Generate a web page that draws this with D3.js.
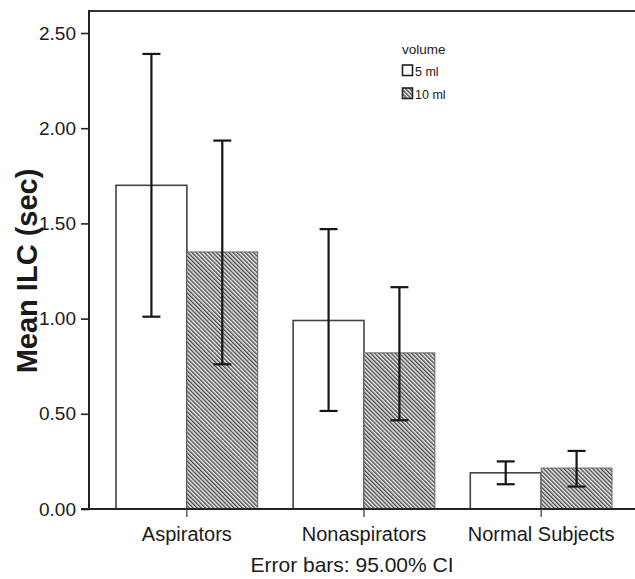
<!DOCTYPE html>
<html>
<head>
<meta charset="utf-8">
<script src="https://cdn.jsdelivr.net/npm/d3@7"></script>
<style>
  html, body { margin: 0; padding: 0; background: #fff; }
  svg { display: block; }
  text { font-family: "Liberation Sans", Arial, sans-serif; fill: #1a1a1a; }
</style>
</head>
<body>
<svg id="chart" width="635" height="579"></svg>
<script>
// ---- data ----
const categories = ["Aspirators", "Nonaspirators", "Normal Subjects"];
const seriesNames = ["5 ml", "10 ml"];
const mean5 = [1.70, 0.99, 0.19];
const mean10 = [1.35, 0.82, 0.215];
const ciLow5 = [1.01, 0.515, 0.13];
const ciHigh5 = [2.39, 1.47, 0.25];
const ciLow10 = [0.76, 0.466, 0.118];
const ciHigh10 = [1.935, 1.165, 0.305];
const yTicks = [0, 0.5, 1.0, 1.5, 2.0, 2.5];
const legendTitle = "volume";
const yTitle = "Mean ILC (sec)";
const footnote = "Error bars: 95.00% CI";

const svg = d3.select("#chart");

// hatch pattern
const defs = svg.append("defs");
const pat = defs.append("pattern")
  .attr("id", "hatch")
  .attr("patternUnits", "userSpaceOnUse")
  .attr("width", 2.9).attr("height", 10)
  .attr("patternTransform", "rotate(-45)");
pat.append("rect").attr("width", 2.9).attr("height", 10).attr("fill", "#f0f0f0");
pat.append("line").attr("x1", 0.7).attr("x2", 0.7).attr("y1", 0).attr("y2", 10)
  .attr("stroke", "#3a3a3a").attr("stroke-width", 1.3);

// scales
const y = d3.scaleLinear().domain([0, 2.5]).range([509, 33]);
const x = d3.scaleBand().domain(categories).range([116, 612]).paddingInner(0.2).paddingOuter(0);
const xs = d3.scaleBand().domain(seriesNames).range([0, x.bandwidth()]);

const rows = categories.map((c, i) => ([
  { cat: c, s: seriesNames[0], v: mean5[i], lo: ciLow5[i], hi: ciHigh5[i] },
  { cat: c, s: seriesNames[1], v: mean10[i], lo: ciLow10[i], hi: ciHigh10[i] }
])).flat();

// bars
svg.append("g").selectAll("rect").data(rows).join("rect")
  .attr("x", d => x(d.cat) + xs(d.s))
  .attr("y", d => y(d.v))
  .attr("width", xs.bandwidth())
  .attr("height", d => y(0) - y(d.v))
  .attr("fill", d => d.s === seriesNames[0] ? "#ffffff" : "url(#hatch)")
  .attr("stroke", d => d.s === seriesNames[0] ? "#444" : "#666")
  .attr("stroke-width", d => d.s === seriesNames[0] ? 1.6 : 1);

// error bars
const eg = svg.append("g").attr("stroke", "#151515").attr("stroke-width", 2.2).attr("fill", "none");
rows.forEach(d => {
  const cx = x(d.cat) + xs(d.s) + xs.bandwidth() / 2;
  eg.append("line").attr("x1", cx).attr("x2", cx).attr("y1", y(d.lo)).attr("y2", y(d.hi));
  eg.append("line").attr("x1", cx - 9).attr("x2", cx + 9).attr("y1", y(d.lo)).attr("y2", y(d.lo));
  eg.append("line").attr("x1", cx - 9).attr("x2", cx + 9).attr("y1", y(d.hi)).attr("y2", y(d.hi));
});

// frame
svg.append("line").attr("x1", 89).attr("x2", 635).attr("y1", 11).attr("y2", 11)
  .attr("stroke", "#333").attr("stroke-width", 2);

// y axis
const yAxis = d3.axisLeft(y).tickValues(yTicks).tickFormat(d3.format(".2f")).tickSize(8).tickPadding(5);
const gy = svg.append("g").attr("transform", "translate(89,0)").call(yAxis);
gy.select(".domain").attr("stroke", "#222").attr("stroke-width", 2).attr("d", "M0,10V509");
gy.selectAll(".tick line").attr("stroke", "#222").attr("stroke-width", 1.6);
gy.selectAll(".tick text").attr("font-size", 19).attr("font-family", "Liberation Sans, Arial, sans-serif").attr("fill", "#1a1a1a");

// x axis
const xAxis = d3.axisBottom(x).tickSize(8).tickPadding(10);
const gx = svg.append("g").attr("transform", "translate(0,509)").call(xAxis);
gx.select(".domain").attr("stroke", "#222").attr("stroke-width", 2).attr("d", "M81,0H635");
gx.selectAll(".tick line").attr("stroke", "#444").attr("stroke-width", 1.3);
gx.selectAll(".tick text").attr("font-size", 20).attr("font-family", "Liberation Sans, Arial, sans-serif").attr("fill", "#1a1a1a");

// y title
svg.append("text")
  .attr("transform", "translate(37,271) rotate(-90)")
  .attr("text-anchor", "middle")
  .attr("font-size", 29).attr("font-weight", "bold")
  .text(yTitle);

// footnote
svg.append("text")
  .attr("x", 352).attr("y", 572)
  .attr("text-anchor", "middle")
  .attr("font-size", 21)
  .text(footnote);

// legend
const lg = svg.append("g");
lg.append("text").attr("x", 402).attr("y", 54).attr("font-size", 13.5).text(legendTitle);
seriesNames.forEach((s, i) => {
  const yy = 65 + i * 23;
  lg.append("rect").attr("x", 402.5).attr("y", yy).attr("width", 10).attr("height", 10.5)
    .attr("fill", i === 0 ? "#fff" : "url(#hatch)")
    .attr("stroke", "#222").attr("stroke-width", 1.6);
  lg.append("text").attr("x", 415).attr("y", yy + 10.5).attr("font-size", 12.5).text(s);
});
</script>
</body>
</html>
